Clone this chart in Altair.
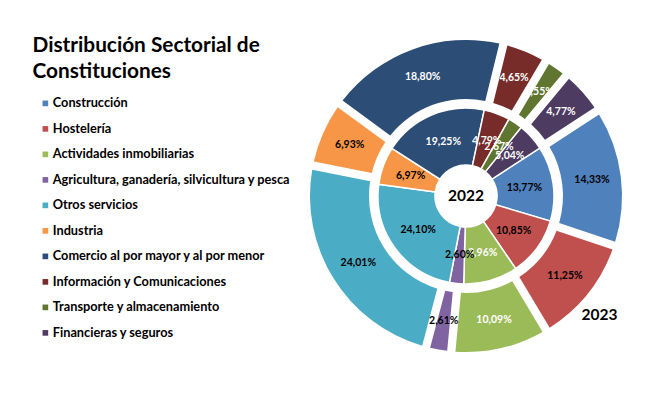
import altair as alt
import pandas as pd

sectors = ["Construcción", "Hostelería", "Actividades inmobiliarias",
           "Agricultura, ganadería, silvicultura y pesca", "Otros servicios",
           "Industria", "Comercio al por mayor y al por menor",
           "Información y Comunicaciones", "Transporte y almacenamiento",
           "Financieras y seguros"]
colors = ["#4F81BD", "#C0504D", "#9BBB59", "#8064A2", "#4BACC6", "#F79646",
          "#2C4D75", "#772C2A", "#5F7530", "#4D3B62"]
values_2022 = [13.77, 10.85, 9.96, 2.60, 24.10, 6.97, 19.25, 4.79, 2.67, 5.04]
values_2023 = [14.33, 11.25, 10.09, 2.61, 24.01, 6.93, 18.80, 4.65, 2.55, 4.77]
label_tone = ["black", "black", "white", "black", "black", "black",
              "white", "white", "white", "white"]
title_lines = ["Distribución Sectorial de", "Constituciones"]

rows = []
for year, vals in (("2022", values_2022), ("2023", values_2023)):
    for i, (s, v, t) in enumerate(zip(sectors, vals, label_tone)):
        rows.append({"sector": s, "year": year, "value": v, "idx": i,
                     "label": f"{v:.2f}".replace(".", ",") + "%", "tone": t})
df = pd.DataFrame(rows)

FONT = "Lato"
CX, CY = 458, 188
T0 = 0.9948
theta_scale = alt.Scale(domain=[0, 100], range=[T0, T0 + 6.283185])
color_scale = alt.Scale(domain=sectors, range=colors)

base = alt.Chart(df)


def ring(year, r_in, r_out, r_lab, **kw):
    arcs = base.transform_filter(alt.datum.year == year).mark_arc(
        innerRadius=r_in, outerRadius=r_out, **kw
    ).encode(
        theta=alt.Theta("value:Q", stack=True, scale=theta_scale),
        color=alt.Color("sector:N", scale=color_scale,
                        legend=alt.Legend(title=None, orient="none",
                                          legendX=31, legendY=89,
                                          symbolType="square", symbolSize=32,
                                          symbolStrokeWidth=0,
                                          labelFont=FONT, labelFontSize=12.75,
                                          labelFontWeight="bold",
                                          labelColor="black", labelLimit=400,
                                          labelOffset=1, rowPadding=11.5,
                                          padding=0)),
        order=alt.Order("idx:Q"),
        x=alt.value(CX), y=alt.value(CY),
    )
    labels = base.transform_filter(alt.datum.year == year).mark_text(
        radius=r_lab, font=FONT, fontSize=10.5, fontWeight="bold"
    ).encode(
        theta=alt.Theta("value:Q", stack=True, scale=theta_scale),
        detail="sector:N",
        order=alt.Order("idx:Q"),
        text="label:N",
        color=alt.when(alt.datum.tone == "white").then(alt.value("white")).otherwise(alt.value("black")),
        x=alt.value(CX), y=alt.value(CY),
    )
    return arcs, labels


inner_arcs, inner_labels = ring("2022", 31, 88, 59, stroke="white", strokeWidth=1.5)
outer_arcs, outer_labels = ring("2023", 97, 156, 127, padAngle=0.045)

title = alt.Chart(pd.DataFrame({"a": [0]})).mark_text(
    align="left", baseline="alphabetic", font=FONT, fontSize=20.8,
    fontWeight="bold", lineHeight=26.6, color="black"
).encode(x=alt.value(24.5), y=alt.value(43.7), text=alt.value(title_lines))

yr22 = alt.Chart(pd.DataFrame({"year": ["2022"]})).mark_text(
    align="center", baseline="middle", font=FONT, fontSize=15.5,
    fontWeight="bold", color="black"
).encode(x=alt.value(CX), y=alt.value(CY), text="year:N")

yr23 = alt.Chart(pd.DataFrame({"year": ["2023"]})).mark_text(
    align="center", baseline="middle", font=FONT, fontSize=15.5,
    fontWeight="bold", color="black"
).encode(x=alt.value(591.5), y=alt.value(306.7), text="year:N")

chart = alt.layer(
    outer_arcs, inner_arcs, outer_labels, inner_labels, yr22, yr23, title
).properties(
    width=654, height=381, autosize=alt.AutoSizeParams(type="none"), padding=0
).configure_view(stroke=None)

chart.save("out.html", embed_options={"renderer": "svg", "actions": False})
